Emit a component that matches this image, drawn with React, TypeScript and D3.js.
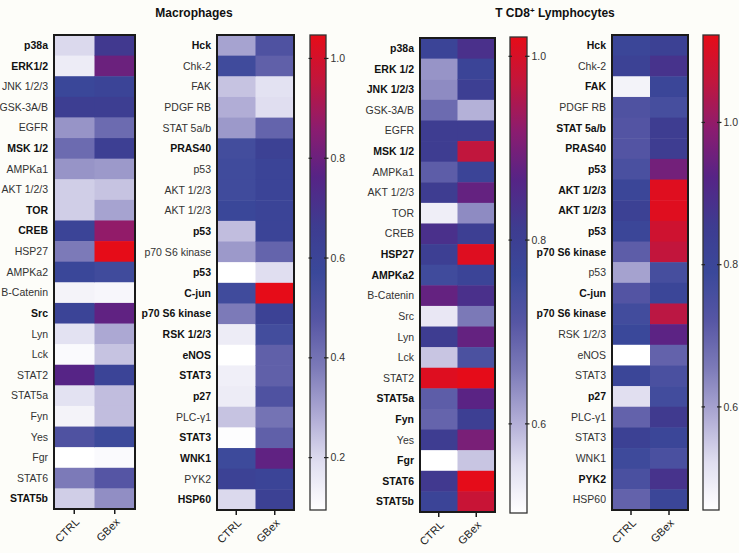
import React from 'react';
import * as d3 from 'd3';

// taille de la figure
const W = 739;
const H = 553;

const conditions = ['CTRL', 'GBex'];

// Macrophages - panneau gauche
const macLeftLabels = ['p38a', 'ERK1/2', 'JNK 1/2/3', 'GSK-3A/B', 'EGFR', 'MSK 1/2', 'AMPKa1', 'AKT 1/2/3', 'TOR', 'CREB', 'HSP27', 'AMPKa2', 'B-Catenin', 'Src', 'Lyn', 'Lck', 'STAT2', 'STAT5a', 'Fyn', 'Yes', 'Fgr', 'STAT6', 'STAT5b'];
const macLeftBold = [1, 1, 0, 0, 0, 1, 0, 0, 1, 1, 0, 0, 0, 1, 0, 0, 0, 0, 0, 0, 0, 0, 1];
const macLeftCtrl = [0.2, 0.15, 0.58, 0.65, 0.33, 0.42, 0.33, 0.22, 0.22, 0.6, 0.38, 0.58, 0.13, 0.6, 0.18, 0.11, 0.76, 0.18, 0.13, 0.5, 0.095, 0.38, 0.22];
const macLeftGbex = [0.68, 0.8, 0.6, 0.65, 0.42, 0.64, 0.32, 0.24, 0.3, 0.87, 1.05, 0.55, 0.12, 0.78, 0.29, 0.24, 0.6, 0.25, 0.25, 0.56, 0.11, 0.48, 0.34];

// Macrophages - panneau droit
const macRightLabels = ['Hck', 'Chk-2', 'FAK', 'PDGF RB', 'STAT 5a/b', 'PRAS40', 'p53', 'AKT 1/2/3', 'AKT 1/2/3', 'p53', 'p70 S6 kinase', 'p53', 'C-jun', 'p70 S6 kinase', 'RSK 1/2/3', 'eNOS', 'STAT3', 'p27', 'PLC-γ1', 'STAT3', 'WNK1', 'PYK2', 'HSP60'];
const macRightBold = [1, 0, 0, 0, 0, 1, 0, 0, 0, 1, 0, 1, 1, 1, 1, 1, 1, 1, 0, 1, 1, 0, 1];
const macRightCtrl = [0.3, 0.55, 0.24, 0.28, 0.32, 0.54, 0.55, 0.55, 0.58, 0.25, 0.32, 0.095, 0.55, 0.38, 0.15, 0.095, 0.14, 0.15, 0.24, 0.1, 0.56, 0.62, 0.2];
const macRightGbex = [0.5, 0.45, 0.18, 0.19, 0.44, 0.63, 0.6, 0.6, 0.6, 0.6, 0.44, 0.19, 1.05, 0.62, 0.54, 0.45, 0.45, 0.5, 0.4, 0.45, 0.78, 0.6, 0.63];

// T CD8+ - panneau gauche
const tLeftLabels = ['p38a', 'ERK 1/2', 'JNK 1/2/3', 'GSK-3A/B', 'EGFR', 'MSK 1/2', 'AMPKa1', 'AKT 1/2/3', 'TOR', 'CREB', 'HSP27', 'AMPKa2', 'B-Catenin', 'Src', 'Lyn', 'Lck', 'STAT2', 'STAT5a', 'Fyn', 'Yes', 'Fgr', 'STAT6', 'STAT5b'];
const tLeftBold = [1, 1, 1, 0, 0, 1, 0, 0, 0, 0, 1, 1, 0, 0, 0, 0, 0, 1, 1, 0, 1, 1, 1];
const tLeftCtrl = [0.78, 0.63, 0.64, 0.68, 0.81, 0.81, 0.7, 0.81, 0.53, 0.84, 0.8, 0.75, 0.88, 0.54, 0.81, 0.58, 1.01, 0.7, 0.69, 0.81, 0.503, 0.82, 0.78];
const tLeftGbex = [0.84, 0.78, 0.8, 0.6, 0.81, 0.97, 0.78, 0.88, 0.64, 0.8, 1.01, 0.78, 0.84, 0.66, 0.88, 0.73, 1.02, 0.87, 0.8, 0.9, 0.58, 1.02, 0.98];

// T CD8+ - panneau droit
const tRightLabels = ['Hck', 'Chk-2', 'FAK', 'PDGF RB', 'STAT 5a/b', 'PRAS40', 'p53', 'AKT 1/2/3', 'AKT 1/2/3', 'p53', 'p70 S6 kinase', 'p53', 'C-jun', 'p70 S6 kinase', 'RSK 1/2/3', 'eNOS', 'STAT3', 'p27', 'PLC-γ1', 'STAT3', 'WNK1', 'PYK2', 'HSP60'];
const tRightBold = [1, 0, 1, 0, 1, 1, 1, 1, 1, 1, 1, 0, 1, 1, 0, 0, 0, 1, 0, 0, 0, 1, 0];
const tRightCtrl = [0.8, 0.82, 0.48, 0.74, 0.73, 0.73, 0.75, 0.8, 0.83, 0.8, 0.71, 0.6, 0.73, 0.77, 0.79, 0.455, 0.8, 0.52, 0.7, 0.83, 0.78, 0.75, 0.7];
const tRightGbex = [0.83, 0.88, 0.8, 0.76, 0.85, 0.85, 0.96, 1.11, 1.11, 1.08, 1.06, 0.76, 0.8, 1.05, 0.93, 0.7, 0.75, 0.77, 0.86, 0.8, 0.75, 0.88, 0.8];

// échelles des barres de couleur
const macDomain = [0.095, 1.047];
const macTicks = [0.2, 0.4, 0.6, 0.8, 1.0];
const tLeftDomain = [0.503, 1.021];
const tLeftTicks = [0.6, 0.8, 1.0];
const tRightDomain = [0.455, 1.123];
const tRightTicks = [0.6, 0.8, 1.0];

// palette blanc -> bleu -> violet -> rouge
const paletteStops = [0, 0.1, 0.2, 0.3, 0.4, 0.5, 0.6, 0.7, 0.8, 0.9, 1];
const paletteColors = ['#ffffff', '#e0def0', '#aeaad4', '#7c7ab8', '#5656a4', '#3a489a', '#3e3c90', '#562486', '#8a1c70', '#c0163e', '#e60c18'];
const palette = d3.scaleLinear<string>().domain(paletteStops).range(paletteColors).interpolate(d3.interpolateRgb).clamp(true);

const FONT = 'Liberation Sans, Arial, Helvetica, sans-serif';

function colorFor(domain: number[]) {
  const t = d3.scaleLinear().domain(domain).range([0, 1]).clamp(true);
  return (v: number) => palette(t(v));
}

function Heatmap({ labels, bold, ctrl, gbex, domain, x0, x1, y0, y1 }: any) {
  const x = d3.scaleBand().domain(conditions).range([x0, x1]);
  const y = d3.scaleBand().domain(labels.map((_: string, i: number) => String(i))).range([y0, y1]);
  const color = colorFor(domain);
  const series = [ctrl, gbex];
  return (
    <g>
      {series.map((vals: number[], c: number) =>
        vals.map((v, i) => (
          <rect key={`${c}-${i}`} x={x(conditions[c])} y={y(String(i))} width={x.bandwidth() + 0.5} height={y.bandwidth() + 0.5} fill={color(v)} />
        ))
      )}
      <rect x={x0} y={y0} width={x1 - x0} height={y1 - y0} fill="none" stroke="#1a1a1a" strokeWidth={2} />
      {labels.map((lab: string, i: number) => (
        <text key={i} x={x0 - 6} y={(y(String(i)) as number) + y.bandwidth() / 2} dy="0.35em" textAnchor="end"
          fontSize={10.5} fontWeight={bold[i] ? 'bold' : 'normal'} fill={bold[i] ? '#111' : '#333'} fontFamily={FONT}>
          {lab}
        </text>
      ))}
      {conditions.map((c) => {
        const cx = (x(c) as number) + x.bandwidth() / 2;
        return (
          <g key={c}>
            <line x1={cx} x2={cx} y1={y1} y2={y1 + 5} stroke="#1a1a1a" strokeWidth={1.5} />
            <text transform={`translate(${cx + 3},${y1 + 11}) rotate(-45)`} textAnchor="end" dy="0.35em" fontSize={11} fontFamily={FONT} fill="#222">
              {c}
            </text>
          </g>
        );
      })}
    </g>
  );
}

function ColorBar({ id, domain, ticks, x0, x1, y0, y1 }: any) {
  const y = d3.scaleLinear().domain(domain).range([y1, y0]);
  const color = colorFor(domain);
  const stops = d3.range(0, 1.0001, 0.02);
  return (
    <g>
      <defs>
        <linearGradient id={id} x1="0" y1="1" x2="0" y2="0">
          {stops.map((s) => (
            <stop key={s} offset={s} stopColor={color(domain[0] + s * (domain[1] - domain[0]))} />
          ))}
        </linearGradient>
      </defs>
      <rect x={x0} y={y0} width={x1 - x0} height={y1 - y0} fill={`url(#${id})`} stroke="#333" strokeWidth={1.3} />
      {ticks.map((t: number) => (
        <g key={t}>
          <line x1={x0 - 1.5} x2={x0 + 2} y1={y(t)} y2={y(t)} stroke="#222" strokeWidth={1.2} />
          <line x1={x1 - 2} x2={x1 + 2.5} y1={y(t)} y2={y(t)} stroke="#222" strokeWidth={1.2} />
          <text x={x1 + 4.5} y={y(t)} dy="0.35em" fontSize={10.5} fontFamily={FONT} fill="#333">
            {t.toFixed(1)}
          </text>
        </g>
      ))}
    </g>
  );
}

export default function App() {
  return (
    <svg width={W} height={H} style={{ position: 'absolute', left: 0, top: 0, background: '#fdfdf9' }}>
      <text x={194} y={17} textAnchor="middle" fontSize={12} fontWeight="bold" fontFamily={FONT} fill="#111">Macrophages</text>
      <text x={555} y={17} textAnchor="middle" fontSize={12} fontWeight="bold" fontFamily={FONT} fill="#111">
        T CD8<tspan dy={-4} fontSize={8}>+</tspan><tspan dy={4}> Lymphocytes</tspan>
      </text>

      <Heatmap labels={macLeftLabels} bold={macLeftBold} ctrl={macLeftCtrl} gbex={macLeftGbex} domain={macDomain} x0={54} x1={135} y0={35} y1={509} />
      <Heatmap labels={macRightLabels} bold={macRightBold} ctrl={macRightCtrl} gbex={macRightGbex} domain={macDomain} x0={217} x1={294} y0={35} y1={510} />
      <ColorBar id="cb-mac" domain={macDomain} ticks={macTicks} x0={310} x1={326} y0={35} y1={510} />

      <Heatmap labels={tLeftLabels} bold={tLeftBold} ctrl={tLeftCtrl} gbex={tLeftGbex} domain={tLeftDomain} x0={420} x1={495} y0={38} y1={512} />
      <ColorBar id="cb-tl" domain={tLeftDomain} ticks={tLeftTicks} x0={510} x1={527} y0={37} y1={513} />

      <Heatmap labels={tRightLabels} bold={tRightBold} ctrl={tRightCtrl} gbex={tRightGbex} domain={tRightDomain} x0={612} x1={688} y0={35} y1={510} />
      <ColorBar id="cb-tr" domain={tRightDomain} ticks={tRightTicks} x0={703} x1={719} y0={35} y1={510} />
    </svg>
  );
}
